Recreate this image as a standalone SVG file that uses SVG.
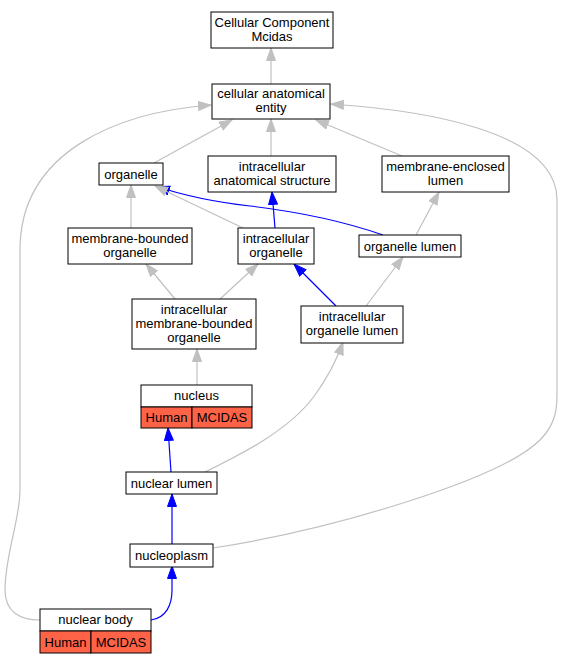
<svg xmlns="http://www.w3.org/2000/svg" width="564" height="664" viewBox="0 0 564 664">
<style>
.bg{fill:#fff}
.n rect{fill:#fff;stroke:#000;stroke-width:1}
.n rect.hit{fill:#ff6347}
.n line{stroke:#000;stroke-width:1}
text{font-family:"Liberation Sans",Arial,sans-serif;font-size:13px;fill:#000;text-anchor:middle}
.e path{fill:none;stroke-width:1.2}
.g{stroke:#c0c0c0}
.b{stroke:#0000ff;stroke-width:1.4}
.g.a{marker-end:url(#ag)}
.b.a{marker-end:url(#ab)}
</style>
<defs>
<marker id="ag" markerUnits="userSpaceOnUse" markerWidth="15" markerHeight="12" refX="13" refY="5" orient="auto"><path d="M0.5,0.5 L13,5 L0.5,9.5 z" fill="#c0c0c0" stroke="#c0c0c0" stroke-width="1"/></marker>
<marker id="ab" markerUnits="userSpaceOnUse" markerWidth="15" markerHeight="12" refX="13" refY="5" orient="auto"><path d="M0.5,0.5 L13,5 L0.5,9.5 z" fill="#0000ff" stroke="#0000ff" stroke-width="1"/></marker>
</defs>
<rect class="bg" x="0" y="0" width="564" height="664"/>
<g id="edges" class="e">
<path class="g a" d="M271,84 L271,48"/>
<path class="g a" d="M154,163 L232,120"/>
<path class="g a" d="M271,156 L271,119"/>
<path class="g a" d="M402,156 L316,120"/>
<path class="g a" d="M40,620 C20,620 5,612 5,590 C5,555 20,520 20,490 L20,250 C20,150 120,112 211,105"/>
<path class="g a" d="M213,548 C330,530 500,480 540,440 C555,425 557,410 557,395 L557,200 C557,130 420,110 331,104"/>
<path class="g a" d="M131,228 L131,185"/>
<path class="b a" d="M383,235 C340,220 300,212 250,206 C215,202 185,196 157,186.5"/>
<path class="g a" d="M243,228 L155,186"/>
<path class="b a" d="M275,228 L272,192"/>
<path class="g a" d="M416,235 L439,192"/>
<path class="g a" d="M175,299 L146,264"/>
<path class="g a" d="M220,299 L258,264"/>
<path class="b a" d="M336,306 L294,264"/>
<path class="g a" d="M366,306 L403,257"/>
<path class="g a" d="M197,385 L197,349"/>
<path class="b a" d="M171,472 L168,428"/>
<path class="g a" d="M205,472 C240,455 290,430 315,395 C328,377 336,362 343,342"/>
<path class="b a" d="M172,544 L172,494"/>
<path class="b a" d="M151,620 C166,618 172,605 172,590 L172,566"/>
</g>
<g id="ccm" class="n"><rect x="211" y="12" width="122" height="36"/><text x="272" y="27">Cellular Component</text><text x="272" y="41">Mcidas</text></g>
<g id="cae" class="n"><rect x="212" y="84" width="118" height="35"/><text x="271" y="98">cellular anatomical</text><text x="271" y="112">entity</text></g>
<g id="organelle" class="n"><rect x="99" y="163" width="64" height="22"/><text x="131" y="178.5">organelle</text></g>
<g id="ias" class="n"><rect x="208" y="156" width="128" height="36"/><text x="272" y="171">intracellular</text><text x="272" y="185">anatomical structure</text></g>
<g id="mel" class="n"><rect x="382" y="156" width="127" height="36"/><text x="445.5" y="171">membrane-enclosed</text><text x="445.5" y="185">lumen</text></g>
<g id="mbo" class="n"><rect x="68" y="228" width="124" height="36"/><text x="130" y="243">membrane-bounded</text><text x="130" y="257">organelle</text></g>
<g id="io" class="n"><rect x="238" y="228" width="76" height="36"/><text x="276" y="243">intracellular</text><text x="276" y="257">organelle</text></g>
<g id="ol" class="n"><rect x="359" y="235" width="102" height="22"/><text x="410" y="250.5">organelle lumen</text></g>
<g id="imbo" class="n"><rect x="132" y="299" width="124" height="50"/><text x="194" y="314">intracellular</text><text x="194" y="328">membrane-bounded</text><text x="194" y="342">organelle</text></g>
<g id="iol" class="n"><rect x="301" y="306" width="102" height="37"/><text x="352" y="321">intracellular</text><text x="352" y="335">organelle lumen</text></g>
<g id="nucleus" class="n"><rect x="141" y="385" width="111" height="22"/><rect class="hit" x="141" y="407" width="51" height="21"/><rect class="hit" x="192" y="407" width="60" height="21"/><text x="196.5" y="400">nucleus</text><text x="166.5" y="422">Human</text><text x="222" y="422">MCIDAS</text></g>
<g id="nlumen" class="n"><rect x="126" y="472" width="91" height="22"/><text x="171.5" y="487.5">nuclear lumen</text></g>
<g id="nucleoplasm" class="n"><rect x="130" y="544" width="83" height="23"/><text x="171.5" y="560">nucleoplasm</text></g>
<g id="nbody" class="n"><rect x="40" y="609" width="111" height="22"/><rect class="hit" x="40" y="631" width="51" height="22"/><rect class="hit" x="91" y="631" width="60" height="22"/><text x="95.5" y="624">nuclear body</text><text x="65.5" y="646.5">Human</text><text x="121" y="646.5">MCIDAS</text></g>
</svg>
